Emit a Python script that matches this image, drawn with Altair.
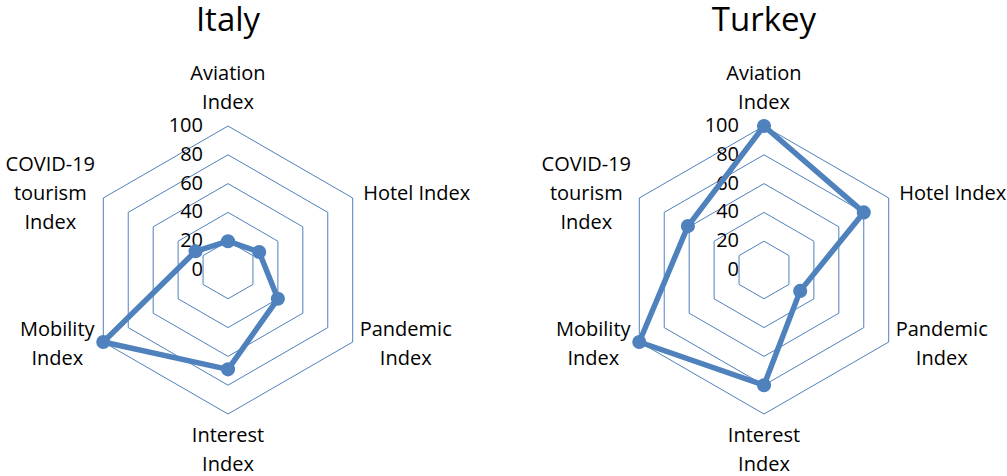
import altair as alt
import pandas as pd

# --- data -------------------------------------------------------------
categories = [
    "Aviation Index",
    "Hotel Index",
    "Pandemic Index",
    "Interest Index",
    "Mobility Index",
    "COVID-19 tourism Index",
]
category_lines = [
    "Aviation\nIndex",
    "Hotel Index",
    "Pandemic\nIndex",
    "Interest\nIndex",
    "Mobility\nIndex",
    "COVID-19\ntourism\nIndex",
]
countries = ["Italy", "Turkey"]
italy_values = [20, 25, 40, 69, 100, 26]
turkey_values = [100, 80, 29, 80, 100, 61]
ring_levels = [20, 40, 60, 80, 100]
tick_values = [0, 20, 40, 60, 80, 100]

# --- layout -----------------------------------------------------------
W, H = 1007, 476
PX = 1.44                      # pixels per index point
CX_ITALY, CX_TURKEY, CY = 228, 764, 270
X_DOMAIN = [-CX_ITALY / PX, (W - CX_ITALY) / PX]
Y_DOMAIN = [-(H - CY) / PX, CY / PX]
TURKEY_SHIFT = (CX_TURKEY - CX_ITALY) / PX
# pixel offsets of each category label's first line from its outer vertex
LABEL_OFFSETS = [(0, -52), (64, -4), (53, -12), (0, 22), (-46, -12), (-53, -33)]
BLUE = "#4F81BD"
FONT = "Open Sans"

xs = alt.Scale(domain=X_DOMAIN, nice=False, zero=False)
ys = alt.Scale(domain=Y_DOMAIN, nice=False, zero=False)

SHIFT = f"(datum.country == 'Turkey' ? {TURKEY_SHIFT} : 0)"
PX_EXPR = f"{SHIFT} + datum.value * sin(datum.k * PI / 3)"
PY_EXPR = "datum.value * cos(datum.k * PI / 3)"

# series polygons (first vertex repeated to close the shape)
series_rows = []
for country, vals in zip(countries, [italy_values, turkey_values]):
    for k in range(7):
        series_rows.append(
            {"country": country, "k": k, "category": categories[k % 6], "value": vals[k % 6]}
        )
series = pd.DataFrame(series_rows)

# hexagonal grid rings
grid_rows = []
for country in countries:
    for level in ring_levels:
        for k in range(7):
            grid_rows.append({"country": country, "ring": level, "k": k, "value": level})
grid = pd.DataFrame(grid_rows)

ticks = pd.DataFrame(
    [{"country": c, "value": t, "label": str(t)} for c in countries for t in tick_values]
)

labels = pd.DataFrame(
    [
        {
            "country": c,
            "k": k,
            "value": 100,
            "label": category_lines[k],
            "dxp": LABEL_OFFSETS[k][0],
            "dyp": LABEL_OFFSETS[k][1],
        }
        for c in countries
        for k in range(6)
    ]
)

titles = pd.DataFrame({"country": countries, "title": countries})

enc_xy = dict(
    x=alt.X("px:Q", scale=xs, axis=None),
    y=alt.Y("py:Q", scale=ys, axis=None),
)

grid_layer = (
    alt.Chart(grid)
    .transform_calculate(px=PX_EXPR, py=PY_EXPR)
    .mark_line(color=BLUE, strokeWidth=1)
    .encode(**enc_xy, detail=["country:N", "ring:N"], order="k:Q")
)

tick_layer = (
    alt.Chart(ticks)
    .transform_calculate(px=SHIFT, py="datum.value")
    .mark_text(align="right", baseline="middle", dx=-25, font=FONT, fontSize=20, color="#000000")
    .encode(**enc_xy, text="label:N")
)

line_layer = (
    alt.Chart(series)
    .transform_calculate(px=PX_EXPR, py=PY_EXPR)
    .mark_line(color=BLUE, strokeWidth=5.5, strokeJoin="round")
    .encode(**enc_xy, detail="country:N", order="k:Q")
)

point_layer = (
    alt.Chart(series)
    .transform_filter("datum.k < 6")
    .transform_calculate(px=PX_EXPR, py=PY_EXPR)
    .mark_point(filled=True, size=200, color=BLUE, opacity=1)
    .encode(**enc_xy, tooltip=["country:N", "category:N", "value:Q"])
)

label_layer = (
    alt.Chart(labels)
    .transform_calculate(
        px=f"{PX_EXPR} + datum.dxp / {PX}",
        py=f"{PY_EXPR} - datum.dyp / {PX}",
    )
    .mark_text(
        align="center",
        baseline="middle",
        lineBreak="\n",
        lineHeight=29,
        font=FONT,
        fontSize=20,
        color="#000000",
    )
    .encode(**enc_xy, text="label:N")
)

title_layer = (
    alt.Chart(titles)
    .transform_calculate(px=SHIFT)
    .mark_text(align="center", baseline="alphabetic", font=FONT, fontSize=33, color="#000000")
    .encode(
        x=alt.X("px:Q", scale=xs, axis=None),
        y=alt.value(31),
        text="title:N",
    )
)

chart = (
    alt.layer(grid_layer, tick_layer, line_layer, point_layer, label_layer, title_layer)
    .properties(
        width=W,
        height=H,
        padding=0,
        autosize=alt.AutoSizeParams(type="none"),
        background="white",
    )
    .configure_view(stroke=None)
)

chart.save("out.html", embed_options={"renderer": "svg", "actions": False})
